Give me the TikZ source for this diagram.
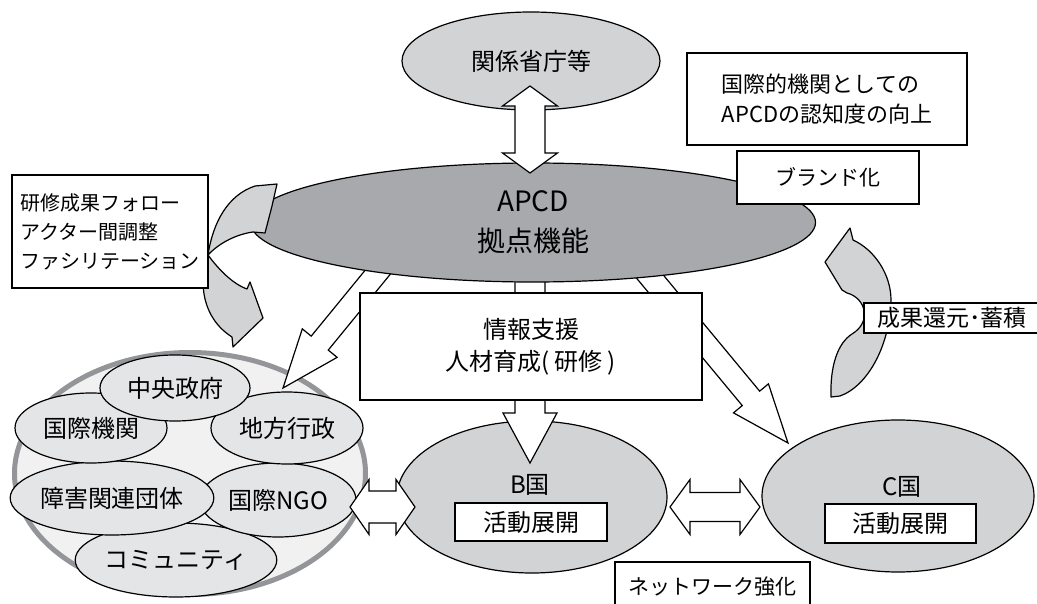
\documentclass[tikz,border=0pt]{standalone}
\usepackage{fontspec}
\setmainfont{Noto Sans CJK JP}
\usetikzlibrary{shapes.geometric,calc}

\definecolor{apcdgray}{HTML}{A7A9AC}
\definecolor{ellgray}{HTML}{D1D3D4}
\definecolor{subgray}{HTML}{E4E5E6}
\definecolor{grpgray}{HTML}{F1F1F2}
\definecolor{rimgray}{HTML}{939598}

\def\fs#1{\fontsize{#1}{#1}\selectfont}

\newcommand{\blockarrow}[5]{%
  \coordinate (ba-h) at ($(#2)!#5!(#1)$);
  \filldraw[blockarr] ($(#1)!#3!90:(#2)$) -- ($(ba-h)!#3!-90:(#1)$) -- ($(ba-h)!#4!-90:(#1)$)
    -- (#2) -- ($(ba-h)!#4!90:(#1)$) -- ($(ba-h)!#3!90:(#1)$) -- ($(#1)!#3!-90:(#2)$) -- cycle;
}
\newcommand{\dblarrow}[5]{%
  \coordinate (da-p) at ($(#1)!#5!(#2)$);
  \coordinate (da-q) at ($(#2)!#5!(#1)$);
  \filldraw[blockarr] (#1) -- ($(da-p)!#4!90:(#2)$) -- ($(da-p)!#3!90:(#2)$) -- ($(da-q)!#3!-90:(#1)$)
    -- ($(da-q)!#4!-90:(#1)$) -- (#2) -- ($(da-q)!#4!90:(#1)$) -- ($(da-q)!#3!90:(#1)$)
    -- ($(da-p)!#3!-90:(#2)$) -- ($(da-p)!#4!-90:(#2)$) -- cycle;
}

\begin{document}
\begin{tikzpicture}[x=1pt, y=-1pt,
  ell/.style={draw, ellipse, line width=1.2pt, inner sep=0pt, font=\fs{24}},
  subell/.style={ell, fill=subgray},
  box/.style={draw, fill=white, line width=1.2pt, inner sep=0pt},
  blockarr/.style={draw, fill=white, line width=1.2pt},
  curvearr/.style={draw, fill=ellgray, line width=1.2pt, line join=round}]
  \useasboundingbox (0,0) rectangle (1037,604);

  % actors
  \node[ell, draw=rimgray, line width=5pt, fill=grpgray, minimum width=351pt, minimum height=242pt] (grp) at (190,473.5) {};
  \node[subell, minimum width=188pt, minimum height=74pt] (comm) at (176,560) {コミュニティ};
  \node[subell, minimum width=156pt, minimum height=74pt] (ngo) at (278,500) {国際NGO};
  \node[subell, minimum width=192pt, minimum height=74pt] (dis) at (112,498) {障害関連団体};
  \node[subell, minimum width=152pt, minimum height=72pt] (local) at (287,428) {地方行政};
  \node[subell, minimum width=152pt, minimum height=70pt] (intl) at (91,428) {国際機関};
  \node[subell, minimum width=150pt, minimum height=66pt] (central) at (175,388) {中央政府};

  % countries
  \node[ell, fill=ellgray, minimum width=270pt, minimum height=152pt] (b) at (532,497) {};
  \node[font=\fs{24}] (blab) at (530,485) {B国};
  \node[box, font=\fs{24}, minimum width=152pt, minimum height=38pt] (bact) at (531,522) {活動展開};
  \node[ell, fill=ellgray, minimum width=272pt, minimum height=152pt] (c) at (898,496) {};
  \node[font=\fs{24}] (clab) at (902,487) {C国};
  \node[box, font=\fs{24}, minimum width=151pt, minimum height=39pt] (cact) at (900.5,523.5) {活動展開};

  \coordinate (l0) at (400,245); \coordinate (l1) at (283,388);
  \coordinate (c0) at (530,270); \coordinate (c1) at (530,463);
  \coordinate (r0) at (632,255); \coordinate (r1) at (788,443);
  \blockarrow{l0}{l1}{11pt}{22.5pt}{58pt}
  \blockarrow{c0}{c1}{15pt}{27pt}{50pt}
  \blockarrow{r0}{r1}{11.3pt}{22.7pt}{58pt}

  \node[ell, fill=apcdgray, minimum width=565pt, minimum height=119pt, font=\fs{28}, align=center] (apcd) at (533,222.5)
    {APCD\\[12pt]拠点機能};
  \node[box, font=\fs{24}, align=center, minimum width=342pt, minimum height=107pt] (info) at (531,346.5)
    {情報支援\\[8pt]人材育成(\hspace{5pt}研修\hspace{5pt})};

  \node[ell, fill=ellgray, minimum width=258pt, minimum height=98pt] (gov) at (531,61) {関係省庁等};
  \coordinate (v1) at (530,86); \coordinate (v2) at (530,173);
  \dblarrow{v1}{v2}{15pt}{27.5pt}{20pt}

  % curved arrows
  \filldraw[curvearr] (208,255) .. controls (213,222) and (228,195) .. (255,186) -- (277,184) -- (272,206)
    -- (265,233) -- (253,232) .. controls (238,234) and (220,242) .. (208,255) -- cycle;
  \filldraw[curvearr] (208,255) .. controls (198,282) and (202,318) .. (232,337) -- (233,347) -- (263,318)
    -- (250,282) -- (247,289) .. controls (233,284) and (219,270) .. (208,255) -- cycle;
  \filldraw[curvearr] (831,397) -- (840,396) .. controls (868,386) and (890,345) .. (891,300)
    .. controls (891,275) and (875,250) .. (853,240) -- (850,228) -- (825,262) -- (842,290) -- (847,293)
    .. controls (866,298) and (872,322) .. (852,334) .. controls (838,343) and (830,365) .. (831,397) -- cycle;

  \node[box, font=\fs{22}, align=left, minimum width=280pt, minimum height=92pt] (recog) at (827,99)
    {国際的機関としての\\[8pt]APCDの認知度の向上};
  \node[box, font=\fs{21}, minimum width=182pt, minimum height=53pt] (brand) at (828,177.5) {ブランド化};
  \node[box, font=\fs{20}, align=left, minimum width=196pt, minimum height=113pt] (follow) at (110,231.5)
    {研修成果フォロー\\[9pt]アクター間調整\\[9pt]ファシリテーション};
  \node[box, font=\fs{23}, minimum width=176pt, minimum height=30pt] (return) at (952,318) {成果還元･蓄積};

  \coordinate (h1) at (350,507); \coordinate (h2) at (415,507);
  \coordinate (h3) at (670,507); \coordinate (h4) at (760,507);
  \dblarrow{h1}{h2}{16pt}{27.5pt}{19pt}
  \dblarrow{h3}{h4}{14.5pt}{27.5pt}{20pt}

  \node[box, font=\fs{21}, minimum width=195pt, minimum height=50pt] (net) at (712.5,587) {ネットワーク強化};
\end{tikzpicture}
\end{document}
